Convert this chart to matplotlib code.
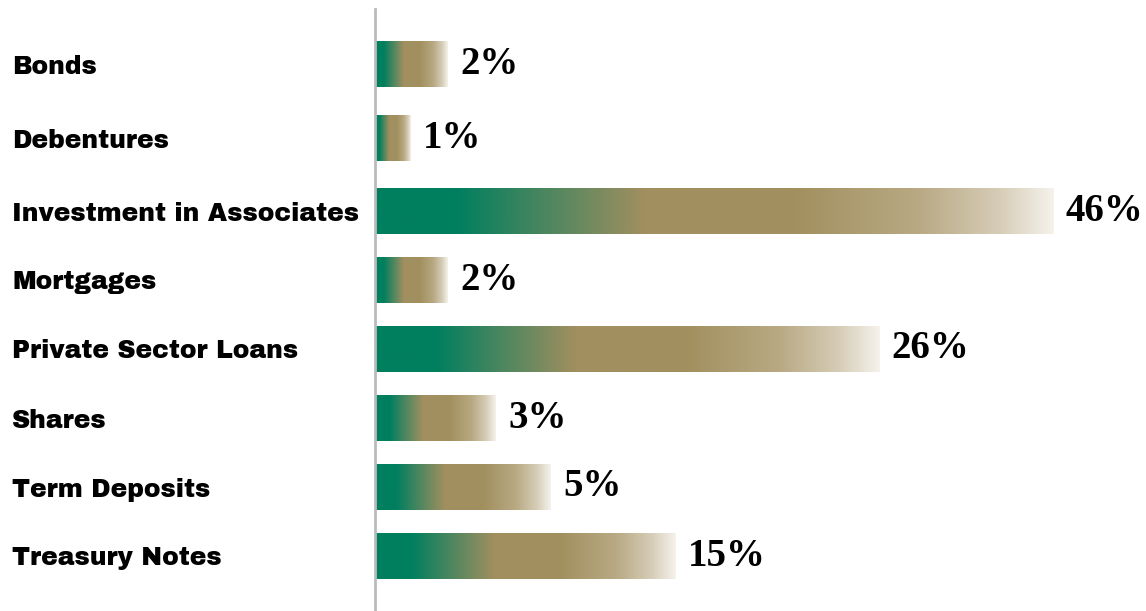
import numpy as np
import matplotlib.pyplot as plt
from matplotlib.colors import LinearSegmentedColormap

categories = ["Bonds", "Debentures", "Investment in Associates", "Mortgages",
              "Private Sector Loans", "Shares", "Term Deposits", "Treasury Notes"]
# bar lengths as drawn (relative units, longest bar = 46)
bar_values = [4.95, 2.4, 46, 4.95, 34.2, 8.2, 11.9, 20.4]
pct_labels = ["2%", "1%", "46%", "2%", "26%", "3%", "5%", "15%"]

# row centres, measured in pixels from the top of the image (layout only)
row_y = [64, 138, 211.5, 280, 349, 418, 487, 556]
bar_h = 46

grad = LinearSegmentedColormap.from_list("bar_grad", [
    (0.00, "#007f5f"), (0.12, "#007f5f"), (0.40, "#a38f5f"),
    (0.62, "#a2905f"), (0.80, "#b8a983"), (0.92, "#d6ccb6"), (1.00, "#f5f2ec")])

fig = plt.figure(figsize=(11.46, 6.11), dpi=100)
ax = fig.add_axes([375 / 1146, 0, 1 - 375 / 1146, 602 / 611])

bars = ax.barh(row_y, bar_values, height=bar_h, color="none")

row = np.linspace(0, 1, 256).reshape(1, -1)
for b, lab in zip(bars, pct_labels):
    x0, y0, w, h = b.get_x(), b.get_y(), b.get_width(), b.get_height()
    ax.imshow(row, cmap=grad, extent=[x0, x0 + w, y0 + h, y0], aspect="auto",
              interpolation="bilinear", zorder=1)
    ax.annotate(lab, (x0 + w, y0 + h / 2), xytext=(9, 0), textcoords="offset points",
                va="center", ha="left", fontsize=28, fontweight="bold",
                fontfamily=["Liberation Serif"])

ax.set_xlim(0, 771 / 14.74)
ax.set_ylim(611, 9)
ax.set_yticks(row_y)
ax.set_yticklabels(categories, fontsize=18, fontfamily=["Archivo Black", "Roboto"])
ax.tick_params(axis="y", length=0, pad=0)
for lab in ax.get_yticklabels():
    lab.set_horizontalalignment("left")
    lab.set_x(-363 / 771)
ax.set_xticks([])
for s in ["top", "right", "bottom"]:
    ax.spines[s].set_visible(False)
ax.spines["left"].set_color("#bbbbbb")
ax.spines["left"].set_linewidth(2)
ax.spines["left"].set_zorder(3)

fig.savefig("out.png", dpi=100)
